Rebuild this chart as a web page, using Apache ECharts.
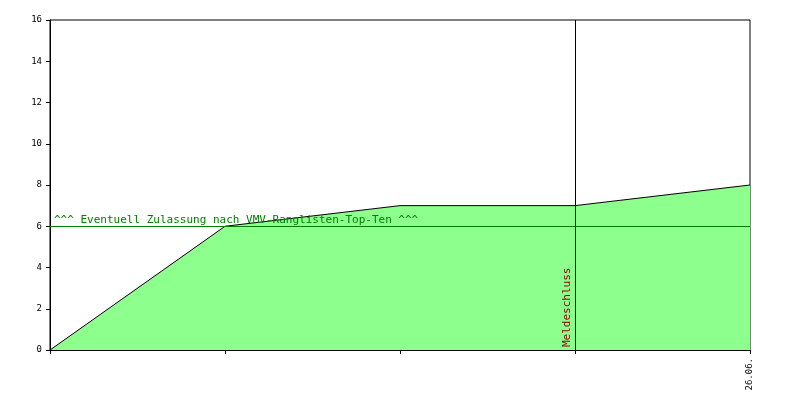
<!DOCTYPE html>
<html><head><meta charset="utf-8">
<script src="https://cdn.jsdelivr.net/npm/echarts@6/dist/echarts.min.js"></script>
<style>body{margin:0}#c{width:800px;height:400px}</style>
</head><body><div id="c"></div>
<script>
var categories = ['', '', '', 'M', '26.06.'];
var values = [0, 6, 7, 7, 8];
var yTicks = [0, 2, 4, 6, 8, 10, 12, 14, 16];
var thresholdValue = 6;
var thresholdLabel = '^^^ Eventuell Zulassung nach VMV-Ranglisten-Top-Ten ^^^';
var deadlineLabel = 'Meldeschluss';

var chart = echarts.init(document.getElementById('c'));
chart.setOption({
    animation: false,
    grid: {left: 50, right: 50, top: 20, bottom: 50, show: true, borderColor: '#000', borderWidth: 1},
    xAxis: {
        type: 'category', data: categories, boundaryGap: false,
        axisLine: {lineStyle: {color: '#000'}},
        axisTick: {length: 4, lineStyle: {color: '#000'}},
        axisLabel: {rotate: 90, fontFamily: 'DejaVu Sans Mono', fontSize: 9, color: '#000',
            formatter: function (v) { return v === 'M' ? '' : v; }}
    },
    yAxis: {
        type: 'value', min: 0, max: 16, interval: 2,
        axisLine: {show: true, lineStyle: {color: '#000'}},
        axisTick: {show: true, length: 4, lineStyle: {color: '#000'}},
        splitLine: {show: false},
        axisLabel: {fontFamily: 'DejaVu Sans Mono', fontSize: 9, color: '#000',
            formatter: function (v) { return yTicks.indexOf(v) >= 0 ? v : ''; }}
    },
    series: [{
        type: 'line', data: values, symbol: 'none',
        lineStyle: {color: '#000', width: 1},
        areaStyle: {color: '#8cff8c', opacity: 1},
        markLine: {
            silent: true, symbol: 'none',
            data: [
                {yAxis: thresholdValue, lineStyle: {color: '#008000', type: 'solid', width: 1},
                 label: {position: 'insideStartTop', formatter: thresholdLabel, color: '#008000',
                     fontFamily: 'DejaVu Sans Mono', fontSize: 11, distance: [4, 1]}},
                {xAxis: 'M', lineStyle: {color: '#000', type: 'solid', width: 1},
                 label: {position: 'insideStartTop', formatter: deadlineLabel, color: '#8b0000',
                     fontFamily: 'DejaVu Sans Mono', fontSize: 11, distance: [3, 2]}}
            ]
        }
    }]
});
</script></body></html>
